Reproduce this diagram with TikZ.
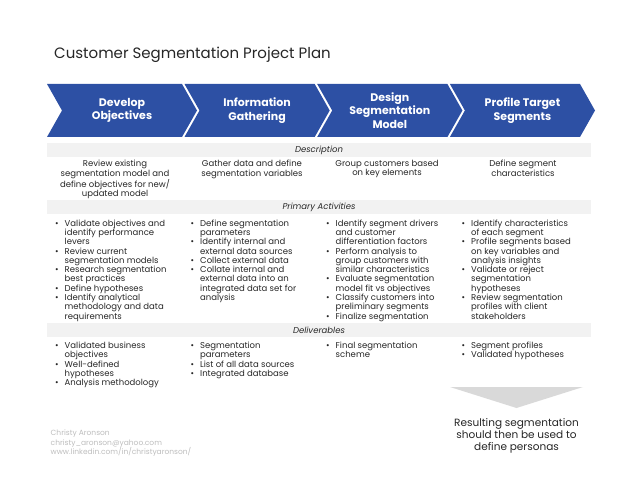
\documentclass[tikz,border=0pt]{standalone}
\usepackage{fontspec}
\setmainfont{Poppins}
\usepackage{tikz}
\usetikzlibrary{positioning,calc}
\definecolor{segblue}{HTML}{2D50A4}
\definecolor{band}{HTML}{F2F2F2}
\definecolor{ink}{HTML}{262626}
\definecolor{faint}{HTML}{BDBDBD}
\definecolor{pointer}{HTML}{D9D9D9}
\newcommand{\bl}{\makebox[9.5bp][l]{\textbullet}}
\newcommand{\ind}{\hspace*{9.5bp}}
\tikzset{
  stagetext/.style={text=white,font=\bfseries\fontsize{11bp}{13.5bp}\selectfont,align=center},
  bandlabel/.style={inner sep=0pt,text=ink,font=\itshape\fontsize{8.5bp}{10bp}\selectfont},
  desctext/.style={anchor=north,inner sep=0pt,align=center,text=ink,font=\fontsize{8.5bp}{9.4bp}\selectfont},
  listtext/.style={anchor=north west,inner sep=0pt,align=left,text=ink,font=\fontsize{8.5bp}{9.3bp}\selectfont}
}
\begin{document}
\begin{tikzpicture}[x=1bp,y=-1bp]
          \useasboundingbox (0,0) rectangle (638,493);
          \node[anchor=base west,inner sep=0pt,text=ink,font=\fontsize{15bp}{17bp}\selectfont] (title) at (54,59) {Customer Segmentation Project Plan};
          \foreach \xl/\xr/\lab/\nm in {47/182/{Develop\\Objectives}/develop, 184.5/314.7/{Information\\Gathering}/gather, 317.2/447.4/{Design\\Segmentation\\Model}/design, 449.9/580/{Profile Target\\Segments}/profile}{
            \fill[segblue] (\xl,84) -- (\xr,84) -- (\xr+15,110.5) -- (\xr,137) -- (\xl,137) -- (\xl+15,110.5) -- cycle;
            \node[stagetext] (\nm) at ({(\xl+\xr+15)/2},110.5) {\lab};
          }
          \foreach \yt/\lab/\nm in {143/Description/descband, 200/Primary Activities/actband, 323/Deliverables/delband}{
            \fill[band] (47,\yt) rectangle (591,\yt+14);
            \node[bandlabel] (\nm) at (319,\yt+7) {\lab};
          }
          \node[desctext] (desc1) at (115,160) {Review existing\\segmentation model and\\define objectives for new/\\updated model};
          \node[desctext] (desc2) at (252,160) {Gather data and define\\segmentation variables};
          \node[desctext] (desc3) at (387,160) {Group customers based\\on key elements};
          \node[desctext] (desc4) at (523,160) {Define segment\\characteristics};
          \node[listtext] (act1) at (55,219.5) {\bl Validate objectives and\\\ind identify performance\\\ind levers\\\bl Review current\\\ind segmentation models\\\bl Research segmentation\\\ind best practices\\\bl Define hypotheses\\\bl Identify analytical\\\ind methodology and data\\\ind requirements};
          \node[listtext] (act2) at (190.5,219.5) {\bl Define segmentation\\\ind parameters\\\bl Identify internal and\\\ind external data sources\\\bl Collect external data\\\bl Collate internal and\\\ind external data into an\\\ind integrated data set for\\\ind analysis};
          \node[listtext] (act3) at (326,219.5) {\bl Identify segment drivers\\\ind and customer\\\ind differentiation factors\\\bl Perform analysis to\\\ind group customers with\\\ind similar characteristics\\\bl Evaluate segmentation\\\ind model fit vs objectives\\\bl Classify customers into\\\ind preliminary segments\\\bl Finalize segmentation};
          \node[listtext] (act4) at (461.5,219.5) {\bl Identify characteristics\\\ind of each segment\\\bl Profile segments based\\\ind on key variables and\\\ind analysis insights\\\bl Validate or reject\\\ind segmentation\\\ind hypotheses\\\bl Review segmentation\\\ind profiles with client\\\ind stakeholders};
          \node[listtext] (del1) at (55,342) {\bl Validated business\\\ind objectives\\\bl Well-defined\\\ind hypotheses\\\bl Analysis methodology};
          \node[listtext] (del2) at (190.5,342) {\bl Segmentation\\\ind parameters\\\bl List of all data sources\\\bl Integrated database};
          \node[listtext] (del3) at (326,342) {\bl Final segmentation\\\ind scheme};
          \node[listtext] (del4) at (461.5,342) {\bl Segment profiles\\\bl Validated hypotheses};
          \fill[pointer] (450,387) -- (583,387) -- (516.5,408) -- cycle;
          \node[desctext,font=\fontsize{10.5bp}{12bp}\selectfont] (result) at (516.5,418) {Resulting segmentation\\should then be used to\\define personas};
          \node[listtext,text=faint,font=\fontsize{7.5bp}{9.3bp}\selectfont] (credit) at (50.5,430) {Christy Aronson\\christy\_aronson@yahoo.com\\www.linkedin.com/in/christyaronson/};
        \end{tikzpicture}
\end{document}
